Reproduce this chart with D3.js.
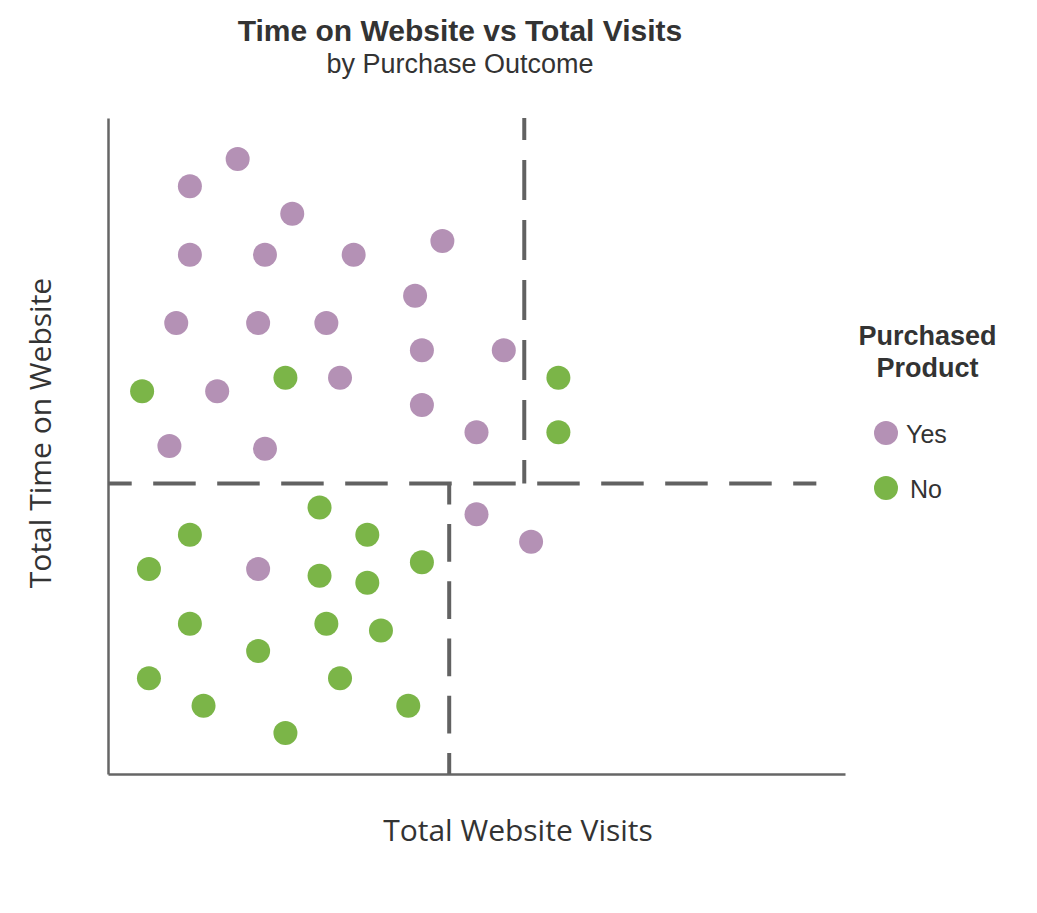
<!DOCTYPE html>
<html>
<head>
<meta charset="utf-8">
<script src="https://cdn.jsdelivr.net/npm/d3@7"></script>
<style>
  body { margin: 0; background: #fff; }
  svg { display: block; }
</style>
</head>
<body>
<div id="chart"></div>
<script>
// purchased = yes
const yesVisits = [19, 12, 27, 49, 12, 23, 36, 45, 10, 22, 32, 46, 58, 34, 16, 46, 54, 9, 23, 54, 62, 22];
const yesTime   = [90, 86, 82, 78, 76, 76, 76, 70, 66, 66, 66, 62, 62, 58, 56, 54, 50, 48, 47.6, 38, 34, 30];

// purchased = no
const noVisits = [26, 66, 5, 66, 31, 12, 38, 6, 31, 38, 46, 12, 32, 40, 22, 6, 34, 14, 44, 26];
const noTime   = [58, 58, 56, 50, 39, 35, 35, 30, 29, 28, 31, 22, 22, 21, 18, 14, 14, 10, 10, 6];

const outcomes = ["Yes", "No"];
const outcomeColors = ["#b491b5", "#7bb548"];

// segment thresholds
const timeCut = 42.5;
const visitCutLow = 50;
const visitCutHigh = 61;
const cutLineEnd = 103.8;

const width = 1037, height = 913;

const svg = d3.select("#chart").append("svg")
    .attr("width", width)
    .attr("height", height);

const x = d3.scaleLinear().domain([0, 108]).range([108, 845]);
const y = d3.scaleLinear().domain([0, 96]).range([774, 118]);

// axes - no ticks, just the lines
const xAxis = svg.append("g")
    .attr("transform", `translate(0,${y(0)})`)
    .call(d3.axisBottom(x).ticks(0).tickSizeOuter(0));
const yAxis = svg.append("g")
    .attr("transform", `translate(${x(0)},0)`)
    .call(d3.axisLeft(y).ticks(0).tickSizeOuter(0));

[xAxis, yAxis].forEach(ax => {
    ax.select(".domain")
        .attr("stroke", "#666")
        .attr("stroke-width", 2.5);
});

// dashed quadrant lines
function dashLine(x1, y1, x2, y2, dash, gap, firstDash){
    svg.append("line")
        .attr("x1", x(x1)).attr("y1", y(y1))
        .attr("x2", x(x2)).attr("y2", y(y2))
        .attr("stroke", "#626262")
        .attr("stroke-width", 4)
        .attr("stroke-dasharray", `${dash},${gap}`)
        .attr("stroke-dashoffset", dash - firstDash);
}

dashLine(0, timeCut, cutLineEnd, timeCut, 42.5, 21.5, 23.7);
dashLine(visitCutHigh, 96, visitCutHigh, timeCut, 40, 20, 22);
dashLine(visitCutLow, timeCut, visitCutLow, 0, 37.7, 19.5, 21);

// points
const pointGroups = [
    {name: outcomes[0], xs: yesVisits, ys: yesTime, color: outcomeColors[0]},
    {name: outcomes[1], xs: noVisits, ys: noTime, color: outcomeColors[1]}
];

pointGroups.forEach(grp => {
    const pts = grp.xs.map((v, i) => [v, grp.ys[i]]);
    svg.append("g").selectAll("circle")
        .data(pts)
        .join("circle")
        .attr("cx", d => x(d[0]))
        .attr("cy", d => y(d[1]))
        .attr("r", 12)
        .attr("fill", grp.color);
});

// titles
svg.append("text")
    .attr("x", 460).attr("y", 41)
    .attr("text-anchor", "middle")
    .style("font-family", "'Liberation Sans', Arial, sans-serif")
    .style("font-weight", "bold")
    .style("font-size", "30px")
    .attr("fill", "#333")
    .text("Time on Website vs Total Visits");

svg.append("text")
    .attr("x", 460).attr("y", 73)
    .attr("text-anchor", "middle")
    .style("font-family", "'Liberation Sans', Arial, sans-serif")
    .style("font-size", "27px")
    .attr("fill", "#333")
    .text("by Purchase Outcome");

// axis labels
svg.append("text")
    .attr("x", 518).attr("y", 841)
    .attr("text-anchor", "middle")
    .style("font-family", "'Open Sans', sans-serif")
    .style("font-size", "30px")
    .attr("fill", "#333")
    .text("Total Website Visits");

svg.append("text")
    .attr("transform", "translate(51,433) rotate(-90)")
    .attr("text-anchor", "middle")
    .style("font-family", "'Open Sans', sans-serif")
    .style("font-size", "30px")
    .attr("fill", "#333")
    .text("Total Time on Website");

// legend
const legend = svg.append("g");
legend.selectAll("text.ttl")
    .data(["Purchased", "Product"])
    .join("text")
    .attr("class", "ttl")
    .attr("x", 927.5)
    .attr("y", (d, i) => 345 + i * 32)
    .attr("text-anchor", "middle")
    .style("font-family", "'Liberation Sans', Arial, sans-serif")
    .style("font-weight", "bold")
    .style("font-size", "27px")
    .attr("fill", "#333")
    .text(d => d);

legend.selectAll("circle")
    .data(outcomes)
    .join("circle")
    .attr("cx", 886)
    .attr("cy", (d, i) => 433 + i * 55)
    .attr("r", 12)
    .attr("fill", (d, i) => outcomeColors[i]);

legend.selectAll("text.lbl")
    .data(outcomes)
    .join("text")
    .attr("class", "lbl")
    .attr("x", (d, i) => i === 0 ? 906 : 910)
    .attr("y", (d, i) => 443 + i * 55)
    .style("font-family", "'Liberation Sans', Arial, sans-serif")
    .style("font-size", "25px")
    .attr("fill", "#333")
    .text(d => d);
</script>
</body>
</html>
